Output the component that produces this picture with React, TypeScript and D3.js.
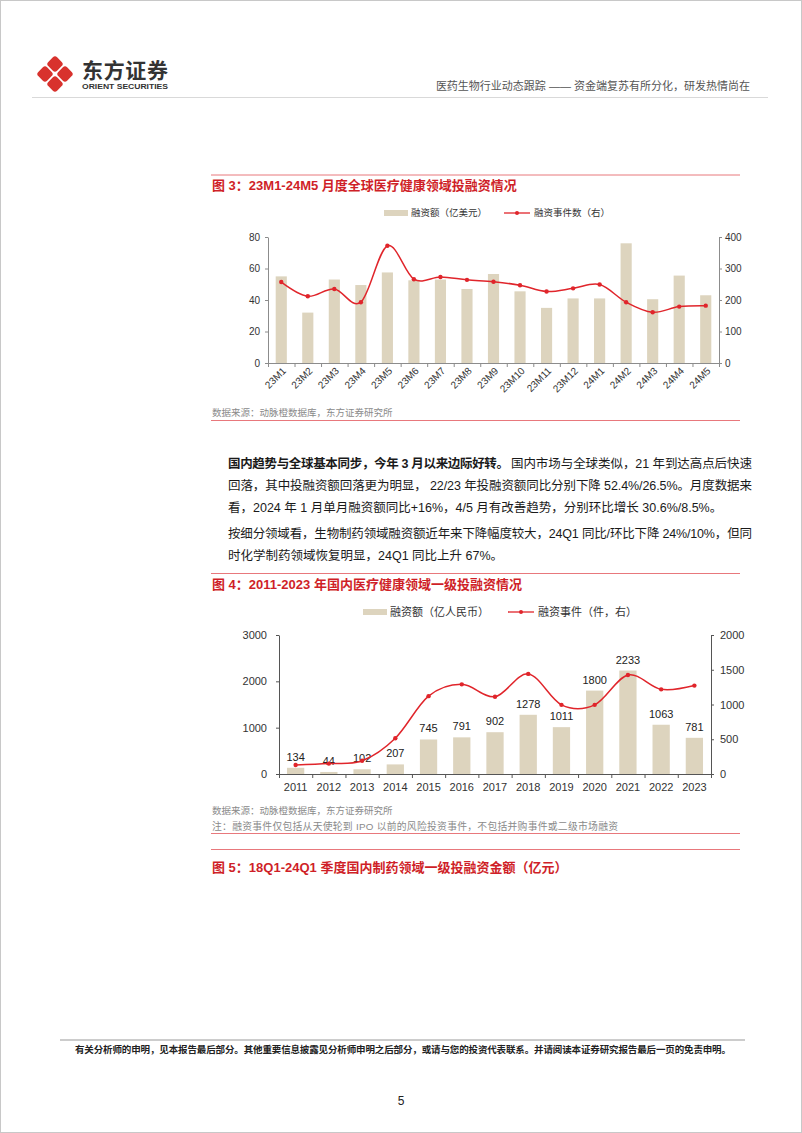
import { useEffect, useRef } from "react";
import * as d3 from "d3";

const W = 802;
const H = 1133;
const FONT = '"Liberation Sans", Arial, "Noto Sans CJK SC", sans-serif';
const TITLE_RED = "#CF1F28";
const RULE = "#E8787C";
const BAR = "#DDD4BE";
const LINE = "#E0252B";

// 图3 data
const months = ["23M1", "23M2", "23M3", "23M4", "23M5", "23M6", "23M7", "23M8", "23M9", "23M10", "23M11", "23M12", "24M1", "24M2", "24M3", "24M4", "24M5"];
const globalAmount = [55, 32, 53, 49.5, 57.5, 52.5, 53, 47, 56.5, 45.5, 35, 41, 41, 76, 40.5, 55.5, 43];
const globalEvents = [257, 212, 235, 193, 372, 266, 273, 264, 258, 247, 227, 237, 249, 193, 161, 179, 182];
const globalAmountTicks = [0, 20, 40, 60, 80];
const globalEventTicks = [0, 100, 200, 300, 400];

// 图4 data
const years = ["2011", "2012", "2013", "2014", "2015", "2016", "2017", "2018", "2019", "2020", "2021", "2022", "2023"];
const domesticAmount = [134, 44, 102, 207, 745, 791, 902, 1278, 1011, 1800, 2233, 1063, 781];
const domesticEvents = [130, 150, 190, 515, 1120, 1290, 1112, 1440, 995, 995, 1425, 1218, 1272];
const domesticAmountTicks = [0, 1000, 2000, 3000];
const domesticEventTicks = [0, 500, 1000, 1500, 2000];

function Axis({ axis, x = 0, y = 0, color, fontSize }: { axis: any; x?: number; y?: number; color: string; fontSize: number }) {
  const ref = useRef<SVGGElement>(null);
  useEffect(() => {
    if (!ref.current) return;
    const g = d3.select(ref.current);
    g.call(axis);
    g.attr("font-family", FONT).attr("font-size", fontSize);
    g.select(".domain").attr("stroke", color);
    g.selectAll(".tick line").attr("stroke", color);
    g.selectAll(".tick text").attr("fill", "#333");
  });
  return <g ref={ref} transform={`translate(${x},${y})`} />;
}

type ComboProps = {
  cats: string[];
  amount: number[];
  events: number[];
  leftTicks: number[];
  rightTicks: number[];
  left: number;
  right: number;
  top: number;
  bottom: number;
  padding: number;
  axisColor: string;
  fontSize: number;
  rotate: boolean;
  barLabels: boolean;
  leftPad: number;
  rightPad: number;
};

function Combo(p: ComboProps) {
  const x = d3.scaleBand<string>().domain(p.cats).range([p.left, p.right]).paddingInner(p.padding).paddingOuter(p.padding / 2);
  const idx = d3.scaleLinear().domain([0, p.cats.length]).range([p.left, p.right]);
  const yL = d3.scaleLinear().domain([0, d3.max(p.leftTicks)!]).range([p.bottom, p.top]);
  const yR = d3.scaleLinear().domain([0, d3.max(p.rightTicks)!]).range([p.bottom, p.top]);
  const cx = (c: string) => (x(c) ?? 0) + x.bandwidth() / 2;
  const line = d3
    .line<number>()
    .x((_, i) => cx(p.cats[i]))
    .y((d) => yR(d))
    .curve(d3.curveCardinal.tension(0));

  const fmt = d3.format("d");
  const leftAxis = d3.axisLeft(yL).tickValues(p.leftTicks).tickFormat(fmt).tickSize(3).tickSizeOuter(0).tickPadding(p.leftPad);
  const rightAxis = d3.axisRight(yR).tickValues(p.rightTicks).tickFormat(fmt).tickSize(3).tickSizeOuter(0).tickPadding(p.rightPad);
  const bottomAxis = d3
    .axisBottom(idx)
    .tickValues(d3.range(p.cats.length + 1))
    .tickFormat(() => "")
    .tickSize(4)
    .tickSizeOuter(0);

  return (
    <g>
      {p.amount.map((v, i) => (
        <rect key={p.cats[i]} x={x(p.cats[i])} y={yL(v)} width={x.bandwidth()} height={p.bottom - yL(v)} fill={BAR} />
      ))}
      {p.barLabels &&
        p.amount.map((v, i) => (
          <text key={p.cats[i]} x={cx(p.cats[i])} y={yL(v) - 7} textAnchor="middle" fontSize={11} fill="#222" fontFamily={FONT}>
            {v}
          </text>
        ))}
      <path d={line(p.events) ?? ""} fill="none" stroke={LINE} strokeWidth={1.5} />
      {p.events.map((v, i) => (
        <circle key={p.cats[i]} cx={cx(p.cats[i])} cy={yR(v)} r={2.2} fill={LINE} />
      ))}
      <Axis axis={leftAxis} x={p.left} color={p.axisColor} fontSize={p.fontSize} />
      <Axis axis={rightAxis} x={p.right} color={p.axisColor} fontSize={p.fontSize} />
      <Axis axis={bottomAxis} y={p.bottom} color={p.axisColor} fontSize={p.fontSize} />
      {p.cats.map((c) =>
        p.rotate ? (
          <text
            key={c}
            transform={`translate(${cx(c) + 3},${p.bottom + 6}) rotate(-45)`}
            textAnchor="end"
            dy="0.35em"
            fontSize={p.fontSize}
            fill="#333"
            fontFamily={FONT}
          >
            {c}
          </text>
        ) : (
          <text key={c} x={cx(c)} y={p.bottom + 17} textAnchor="middle" fontSize={p.fontSize} fill="#333" fontFamily={FONT}>
            {c}
          </text>
        )
      )}
    </g>
  );
}

function LegendItems({ y, barX, barText, lineX, lineText, fontSize }: { y: number; barX: number; barText: string; lineX: number; lineText: string; fontSize: number }) {
  return (
    <g fontFamily={FONT} fontSize={fontSize} fill="#333">
      <rect x={barX} y={y - 3} width={24} height={6} fill={BAR} />
      <text x={barX + 27} y={y + fontSize * 0.36}>{barText}</text>
      <line x1={lineX} x2={lineX + 26} y1={y} y2={y} stroke={LINE} strokeWidth={1.3} />
      <circle cx={lineX + 13} cy={y} r={2} fill={LINE} />
      <text x={lineX + 30} y={y + fontSize * 0.36}>{lineText}</text>
    </g>
  );
}

function Logo() {
  const c = [55, 74];
  const d = 10;
  const s = 12.5;
  const spots = [
    [0, -d],
    [d, 0],
    [0, d],
    [-d, 0],
  ];
  return (
    <g>
      {spots.map(([dx, dy], i) => (
        <rect
          key={i}
          x={-s / 2}
          y={-s / 2}
          width={s}
          height={s}
          rx={3}
          fill="#D8322D"
          transform={`translate(${c[0] + dx},${c[1] + dy}) rotate(45)`}
        />
      ))}
    </g>
  );
}

export default function App() {
  return (
    <div style={{ position: "absolute", left: 0, top: 0 }}>
      <svg width={W} height={H} viewBox={`0 0 ${W} ${H}`} style={{ display: "block", background: "#fff" }}>
        <rect x={0.5} y={0.5} width={W - 1} height={H - 1} fill="#fff" stroke="#c8c8c8" />

        {/* header */}
        <Logo />
        <text x={82} y={78} fontFamily={FONT} fontWeight="bold" fontSize={21} fill="#333" textLength={86}>
          东方证券
        </text>
        <text x={82} y={89} fontFamily={FONT} fontWeight="bold" fontSize={8} fill="#333" textLength={86} lengthAdjust="spacingAndGlyphs">
          ORIENT SECURITIES
        </text>
        <text x={750} y={90} textAnchor="end" fontFamily={FONT} fontSize={11} fill="#555">
          医药生物行业动态跟踪 —— 资金端复苏有所分化，研发热情尚在
        </text>
        <line x1={32} x2={768} y1={97.5} y2={97.5} stroke="#d9d9d9" />

        {/* 图3 */}
        <line x1={211} x2={740} y1={175} y2={175} stroke={RULE} />
        <text x={212} y={189.5} fontFamily={FONT} fontWeight="bold" fontSize={13} fill={TITLE_RED}>
          图 3：23M1-24M5 月度全球医疗健康领域投融资情况
        </text>
        <LegendItems y={213} barX={384} barText="融资额（亿美元）" lineX={504} lineText="融资事件数（右）" fontSize={9.5} />
        <Combo
          cats={months}
          amount={globalAmount}
          events={globalEvents}
          leftTicks={globalAmountTicks}
          rightTicks={globalEventTicks}
          left={268}
          right={719}
          top={237}
          bottom={363}
          padding={0.58}
          axisColor="#8c8c8c"
          fontSize={10}
          rotate={true}
          barLabels={false}
          leftPad={5}
          rightPad={3}
        />
        <text x={212} y={416} fontFamily={FONT} fontSize={9.5} fill="#8a8a8a">
          数据来源：动脉橙数据库，东方证券研究所
        </text>
        <line x1={211} x2={740} y1={420.5} y2={420.5} stroke={RULE} />

        {/* body text */}
        <g fontFamily={FONT} fontSize={12.5} fill="#1a1a1a">
          <text x={228} y={467.5} fontWeight="bold" textLength={281} lengthAdjust="spacing">
            国内趋势与全球基本同步，今年 3 月以来边际好转。
          </text>
          <text x={511} y={467.5} textLength={241} lengthAdjust="spacing">
            国内市场与全球类似，21 年到达高点后快速
          </text>
          <text x={228} y={489.5} textLength={524} lengthAdjust="spacing">
            回落，其中投融资额回落更为明显， 22/23 年投融资额同比分别下降 52.4%/26.5%。月度数据来
          </text>
          <text x={228} y={511.5}>
            看，2024 年 1 月单月融资额同比+16%，4/5 月有改善趋势，分别环比增长 30.6%/8.5%。
          </text>
          <text x={228} y={537.5} textLength={524} lengthAdjust="spacing">
            按细分领域看，生物制药领域融资额近年来下降幅度较大，24Q1 同比/环比下降 24%/10%，但同
          </text>
          <text x={228} y={559.5}>
            时化学制药领域恢复明显，24Q1 同比上升 67%。
          </text>
        </g>

        {/* 图4 */}
        <line x1={211} x2={740} y1={573.5} y2={573.5} stroke={RULE} />
        <text x={212} y={588.5} fontFamily={FONT} fontWeight="bold" fontSize={13} fill={TITLE_RED}>
          图 4：2011-2023 年国内医疗健康领域一级投融资情况
        </text>
        <LegendItems y={612} barX={363} barText="融资额（亿人民币）" lineX={508} lineText="融资事件（件，右）" fontSize={11} />
        <Combo
          cats={years}
          amount={domesticAmount}
          events={domesticEvents}
          leftTicks={domesticAmountTicks}
          rightTicks={domesticEventTicks}
          left={279}
          right={711}
          top={635}
          bottom={774}
          padding={0.48}
          axisColor="#555"
          fontSize={11}
          rotate={false}
          barLabels={true}
          leftPad={9}
          rightPad={6}
        />
        <text x={212} y={813.5} fontFamily={FONT} fontSize={9.5} fill="#8a8a8a">
          数据来源：动脉橙数据库，东方证券研究所
        </text>
        <text x={212} y={829.5} fontFamily={FONT} fontSize={9.8} fill="#8a8a8a" textLength={406} lengthAdjust="spacing">
          注：融资事件仅包括从天使轮到 IPO 以前的风险投资事件，不包括并购事件或二级市场融资
        </text>
        <line x1={211} x2={740} y1={833.5} y2={833.5} stroke={RULE} />

        {/* 图5 title */}
        <line x1={211} x2={740} y1={849.5} y2={849.5} stroke={RULE} />
        <text x={212} y={871.5} fontFamily={FONT} fontWeight="bold" fontSize={13} fill={TITLE_RED}>
          图 5：18Q1-24Q1 季度国内制药领域一级投融资金额（亿元）
        </text>

        {/* footer */}
        <line x1={60} x2={745} y1={1040} y2={1040} stroke="#999" />
        <text x={75} y={1053} fontFamily={FONT} fontWeight="bold" fontSize={9.5} fill="#222" textLength={656} lengthAdjust="spacing">
          有关分析师的申明，见本报告最后部分。其他重要信息披露见分析师申明之后部分，或请与您的投资代表联系。并请阅读本证券研究报告最后一页的免责申明。
        </text>
        <text x={401} y={1105} textAnchor="middle" fontFamily={FONT} fontSize={12} fill="#222">
          5
        </text>
      </svg>
    </div>
  );
}
